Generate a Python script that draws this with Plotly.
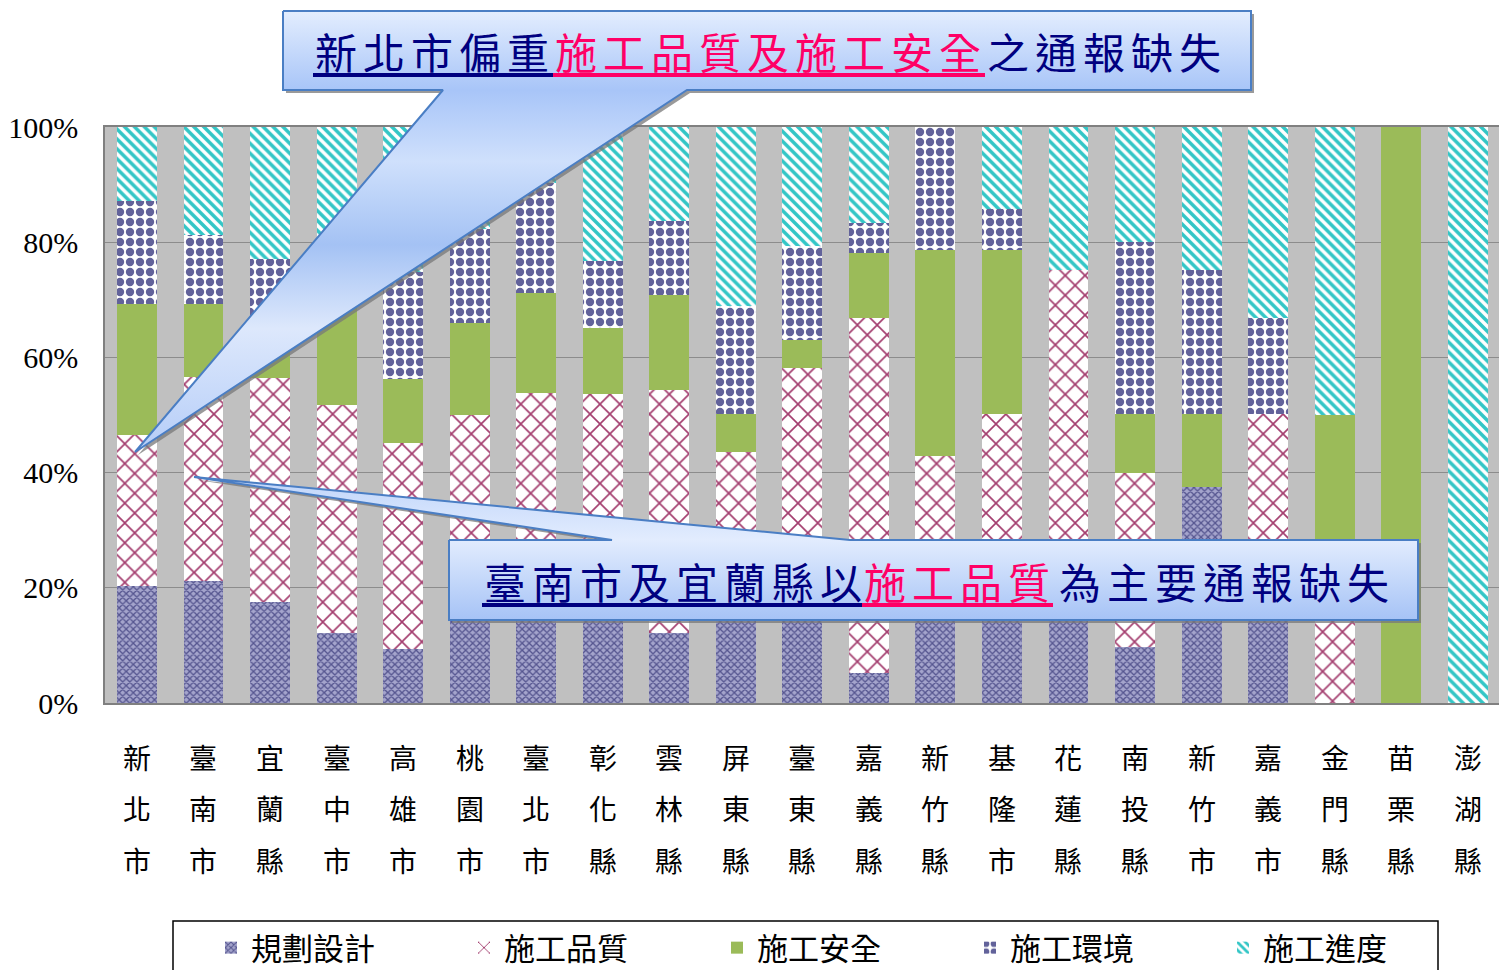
import plotly.graph_objects as go

W, H = 1499, 970

# ---------------- data ----------------
categories = ["新北市", "臺南市", "宜蘭縣", "臺中市", "高雄市", "桃園市", "臺北市",
              "彰化縣", "雲林縣", "屏東縣", "臺東縣", "嘉義縣", "新竹縣", "基隆市",
              "花蓮縣", "南投縣", "新竹市", "嘉義市", "金門縣", "苗栗縣", "澎湖縣"]
series_names = ["規劃設計", "施工品質", "施工安全", "施工環境", "施工進度"]

planning = [20.3, 21.1, 17.5, 12.2, 9.3, 20.0, 22.0, 20.0, 12.1, 21.0, 20.0,
            5.2, 21.4, 21.4, 25.0, 9.7, 37.5, 16.7, 0, 0, 0]
quality = [26.3, 35.5, 38.9, 39.6, 35.8, 30.0, 31.9, 33.6, 42.3, 22.6, 38.1,
           61.6, 21.4, 28.8, 50.1, 30.3, 0, 33.5, 16.7, 0, 0]
safety = [22.7, 12.7, 7.6, 17.2, 11.1, 16.0, 17.2, 11.5, 16.4, 6.6, 4.9,
          11.3, 35.9, 28.5, 0, 10.2, 12.7, 0, 33.3, 100, 0]
environment = [17.9, 12.0, 13.1, 10.0, 18.7, 16.3, 19.2, 11.7, 12.9, 18.7, 16.3,
               5.2, 21.3, 7.1, 0, 29.9, 24.9, 16.6, 0, 0, 0]
progress = [12.8, 18.7, 22.9, 21.0, 25.1, 17.7, 9.7, 23.2, 16.3, 31.1, 20.7,
            16.7, 0, 14.2, 24.9, 19.9, 24.9, 33.2, 50.0, 0, 100]

y_ticks = [0, 20, 40, 60, 80, 100]
y_tick_text = ["0%", "20%", "40%", "60%", "80%", "100%"]

callout1_segments = ["新北市偏重", "施工品質及施工安全", "之通報缺失"]
callout2_segments = ["臺南市及宜蘭縣以", "施工品質", "為主要通報缺失"]

# ---------------- helpers ----------------
def px(x):
    return x / W


def py(y):
    return 1 - y / H


PL, PR, PT, PB = 105, 1499, 127, 703
CJK = "Noto Sans CJK TC"

styles = [
    dict(color="#8080B4", pattern=dict(shape="x", fgcolor="#55558F", bgcolor="#A4A4CC",
                                       size=5, solidity=0.45, fgopacity=1)),
    dict(color="white", pattern=dict(shape="x", fgcolor="#A33D6E", bgcolor="white",
                                     size=14, solidity=0.22, fgopacity=1)),
    dict(color="#9BBB59"),
    dict(color="#666699", pattern=dict(shape=".", fgcolor="#62629A", bgcolor="white",
                                       size=10, solidity=0.55, fgopacity=1)),
    dict(color="#33CCCC", pattern=dict(shape="\\", fgcolor="#33C6C6", bgcolor="white",
                                       size=7, solidity=0.5, fgopacity=1)),
]

fig = go.Figure()
for name, vals, st in zip(series_names, [planning, quality, safety, environment, progress], styles):
    fig.add_trace(go.Bar(
        name=name, x=categories, y=vals,
        marker=dict(line=dict(width=0), **st),
        xaxis="x", yaxis="y",
    ))

# ---------------- callouts (pixel-coordinate overlay axes) ----------------
def callout(pts, grad_start, grad_stop, scale):
    xs = [p[0] for p in pts] + [pts[0][0]]
    ys = [p[1] for p in pts] + [pts[0][1]]
    fig.add_trace(go.Scatter(
        x=[v + 3 for v in xs], y=[v + 3 for v in ys], mode="lines", fill="toself",
        fillcolor="rgba(120,120,120,0.75)", line=dict(width=0),
        xaxis="x2", yaxis="y2", showlegend=False, hoverinfo="skip"))
    fig.add_trace(go.Scatter(
        x=xs, y=ys, mode="lines", fill="toself",
        fillgradient=dict(type="vertical", colorscale=scale, start=grad_start, stop=grad_stop),
        line=dict(color="#4A7EC4", width=2),
        xaxis="x2", yaxis="y2", showlegend=False, hoverinfo="skip"))


c1 = [(283, 11), (1251, 11), (1251, 90), (687, 90), (135, 452), (443, 90), (283, 90)]
callout(c1, 11, 452, [[0, "#E3EDFE"], [0.18, "#A8C5F8"], [0.34, "#CFE0FC"],
                      [0.53, "#A4C2F4"], [0.72, "#DDE8FC"], [1, "#B5CDF8"]])
c2 = [(449, 540), (612, 540), (194, 477), (850, 540), (1418, 540), (1418, 620), (449, 620)]
callout(c2, 477, 620, [[0, "#C0D5FA"], [0.44, "#E2ECFE"], [1, "#A6C3F6"]])

annotations = []
shapes = []

shapes.append(dict(type="rect", xref="paper", yref="paper", x0=px(PL), x1=1.0,
                   y0=py(PB), y1=py(PT), fillcolor="#C0C0C0", line=dict(width=0), layer="below"))

NAVY, PINK = "#000080", "#FF0066"


def callout_text(segs, starts, yc, yline, ends):
    cols = [NAVY, PINK, NAVY]
    for s, x0, c in zip(segs, starts, cols):
        annotations.append(dict(text='<span style="letter-spacing:6px">' + s + '</span>',
                                x=px(x0), y=py(yc), xref="paper", yref="paper",
                                xanchor="left", yanchor="middle", showarrow=False,
                                font=dict(family=CJK, size=42, color=c)))
    shapes.append(dict(type="line", xref="paper", yref="paper", x0=px(starts[0]), x1=px(starts[1]),
                       y0=py(yline), y1=py(yline), line=dict(color=NAVY, width=4), layer="above"))
    shapes.append(dict(type="line", xref="paper", yref="paper", x0=px(starts[1]), x1=px(ends),
                       y0=py(yline), y1=py(yline), line=dict(color=PINK, width=4), layer="above"))


callout_text(callout1_segments, [313, 553, 985], 50, 75, 985)
callout_text(callout2_segments, [482, 862, 1057], 580, 605, 1053)

rows_y = [757, 808, 860]
for cat in categories:
    for ch, yy in zip(cat, rows_y):
        annotations.append(dict(text=ch, x=cat, xref="x", y=py(yy), yref="paper",
                                showarrow=False, xanchor="center", yanchor="middle",
                                font=dict(family=CJK, size=28, color="black")))

shapes.append(dict(type="rect", xref="paper", yref="paper", x0=px(173), x1=px(1438),
                   y0=py(921), y1=py(1000), line=dict(color="black", width=1.5),
                   fillcolor="rgba(0,0,0,0)", layer="above"))

fig.update_layout(
    width=W, height=H,
    margin=dict(l=0, r=0, t=0, b=0, autoexpand=False),
    paper_bgcolor="white", plot_bgcolor="rgba(0,0,0,0)",
    barmode="stack", bargap=0.4,
    showlegend=True,
    legend=dict(orientation="h", xref="paper", yref="paper", x=px(211), y=py(948),
                xanchor="left", yanchor="middle",
                entrywidth=208, entrywidthmode="pixels", bgcolor="rgba(0,0,0,0)",
                font=dict(family=CJK, size=31, color="black"), traceorder="normal"),
    xaxis=dict(domain=[px(PL), 1.0], range=[-0.48, 20.47], type="category",
               showticklabels=False, showgrid=False, zeroline=False, automargin=False,
               showline=True, mirror=True, linecolor="#808080", linewidth=1.5,
               ticks="", fixedrange=True),
    yaxis=dict(domain=[py(PB), py(PT)], range=[0, 100], tickvals=y_ticks, ticktext=y_tick_text,
               showgrid=True, gridcolor="#8C8C8C", gridwidth=1, zeroline=False, automargin=False,
               showline=True, linecolor="#808080", linewidth=1.5,
               ticks="outside", ticklen=0, ticklabelstandoff=19,
               tickfont=dict(family="Liberation Serif", size=30, color="black"), fixedrange=True),
    xaxis2=dict(domain=[0, 1], range=[0, W], visible=False, anchor="y2", fixedrange=True,
                automargin=False),
    yaxis2=dict(domain=[0, 1], range=[H, 0], visible=False, anchor="x2", fixedrange=True,
                automargin=False),
    annotations=annotations,
    shapes=shapes,
)

fig.write_html("out.html", config={"displayModeBar": False},
               post_script="document.body.style.margin='0';document.body.style.overflow='hidden';")
